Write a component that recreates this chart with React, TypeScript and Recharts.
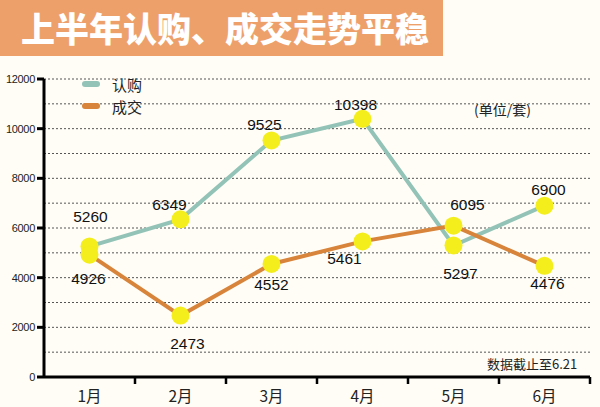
import { LineChart, Line, XAxis, YAxis, CartesianGrid, LabelList } from 'recharts';

const months = ['1月', '2月', '3月', '4月', '5月', '6月'];
const subscribe = [5260, 6349, 9525, 10398, 5297, 6900];
const deals = [4926, 2473, 4552, 5461, 6095, 4476];
const yTicks = [0, 1000, 2000, 3000, 4000, 5000, 6000, 7000, 8000, 9000, 10000, 11000, 12000];

// label offsets (dx, dy) from each point, as placed in the original
const subscribeLabelOffset = [[1, -30], [-11, -15], [-7, -16], [-7, -14], [7, 28], [4, -16]];
const dealLabelOffset = [[-1, 24], [7, 28], [0, 21], [-18, 17], [14, -21], [3, 18]];

const data = months.map((m, i) => ({ month: m, subscribe: subscribe[i], deals: deals[i] }));

const TEAL = '#93c3b7';
const ORANGE = '#d8843a';
const YELLOW = '#f3ee1c';
const NUM_FONT = '"Liberation Sans", Arial, sans-serif';
const CJK_FONT = '"Noto Sans CJK SC", "Noto Sans", sans-serif';

const series = [
  { key: 'subscribe', name: '认购', color: TEAL },
  { key: 'deals', name: '成交', color: ORANGE },
];

const makeLabel = (offsets: number[][]) => (props: any) => {
  const { x, y, value, index } = props;
  const [dx, dy] = offsets[index] || [0, -15];
  return (
    <text x={x + dx} y={y + dy + 5.5} textAnchor="middle" fontSize={15.5} fontFamily={NUM_FONT} fill="#111">
      {value}
    </text>
  );
};

const YTick = (props: any) => {
  const { x, y, payload } = props;
  if (payload.value % 2000 !== 0) return null;
  return (
    <g>
      <line x1={x - 7} x2={x} y1={y} y2={y} stroke="#000" strokeWidth={3} />
      <text x={x - 9} y={y + 4} textAnchor="end" fontSize={11} fontFamily={NUM_FONT} fill="#222" letterSpacing={-0.3}>
        {payload.value}
      </text>
    </g>
  );
};

const XTick = (props: any) => {
  const { x, y, payload } = props;
  return (
    <g>
      <line x1={x + 45.5} x2={x + 45.5} y1={y} y2={y + 7} stroke="#000" strokeWidth={2.5} />
      <text x={x} y={y + 25} textAnchor="middle" fontSize={15.5} fontFamily={CJK_FONT} fill="#222">
        {payload.value}
      </text>
    </g>
  );
};

export default function App() {
  return (
    <div style={{ position: 'absolute', left: 0, top: 0, width: 600, height: 407, background: '#fffdf6', overflow: 'hidden' }}>
      <div
        style={{
          position: 'absolute', left: 0, top: 0, width: 443, height: 56, background: '#eea06b',
          color: '#fff', fontFamily: CJK_FONT, fontWeight: 900, fontSize: 34, lineHeight: '56px',
          paddingLeft: 21, boxSizing: 'border-box',
        }}
      >
        上半年认购、成交走势平稳
      </div>
      <div style={{ position: 'absolute', left: 0, top: 0 }}>
        <LineChart width={600} height={407} data={data} margin={{ top: 79, right: 10, bottom: 0, left: 0 }}>
          <CartesianGrid vertical={false} stroke="#555" strokeDasharray="2 2" />
          <XAxis
            dataKey="month"
            height={30}
            padding={{ left: 45.5, right: 45.5 }}
            axisLine={{ stroke: '#000', strokeWidth: 3 }}
            tickLine={false}
            tickSize={0}
            tickMargin={0}
            tick={<XTick />}
            interval={0}
          />
          <YAxis
            width={44}
            domain={[0, 12000]}
            ticks={yTicks}
            interval={0}
            axisLine={{ stroke: '#000', strokeWidth: 3 }}
            tickLine={false}
            tickSize={0}
            tickMargin={0}
            tick={<YTick />}
          />
          <Line
            dataKey="subscribe"
            name="认购"
            stroke={TEAL}
            strokeWidth={4}
            dot={{ r: 9, fill: YELLOW, stroke: 'none' }}
            isAnimationActive={false}
          >
            <LabelList dataKey="subscribe" content={makeLabel(subscribeLabelOffset)} />
          </Line>
          <Line
            dataKey="deals"
            name="成交"
            stroke={ORANGE}
            strokeWidth={4}
            dot={{ r: 9, fill: YELLOW, stroke: 'none' }}
            isAnimationActive={false}
          >
            <LabelList dataKey="deals" content={makeLabel(dealLabelOffset)} />
          </Line>
        </LineChart>
      </div>
      <div style={{ position: 'absolute', left: 82, top: 73 }}>
        {series.map((s) => (
          <div key={s.key} style={{ display: 'flex', alignItems: 'center', height: 22 }}>
            <div style={{ width: 18, height: 6, borderRadius: 3, background: s.color, marginRight: 12 }} />
            <span style={{ fontFamily: CJK_FONT, fontSize: 15, color: '#222' }}>{s.name}</span>
          </div>
        ))}
      </div>
      <div style={{ position: 'absolute', left: 474, top: 99, fontFamily: CJK_FONT, fontSize: 14, color: '#222' }}>
        (单位/套)
      </div>
      <div style={{ position: 'absolute', left: 487, top: 354, fontFamily: CJK_FONT, fontSize: 13, color: '#222' }}>
        数据截止至6.21
      </div>
    </div>
  );
}
